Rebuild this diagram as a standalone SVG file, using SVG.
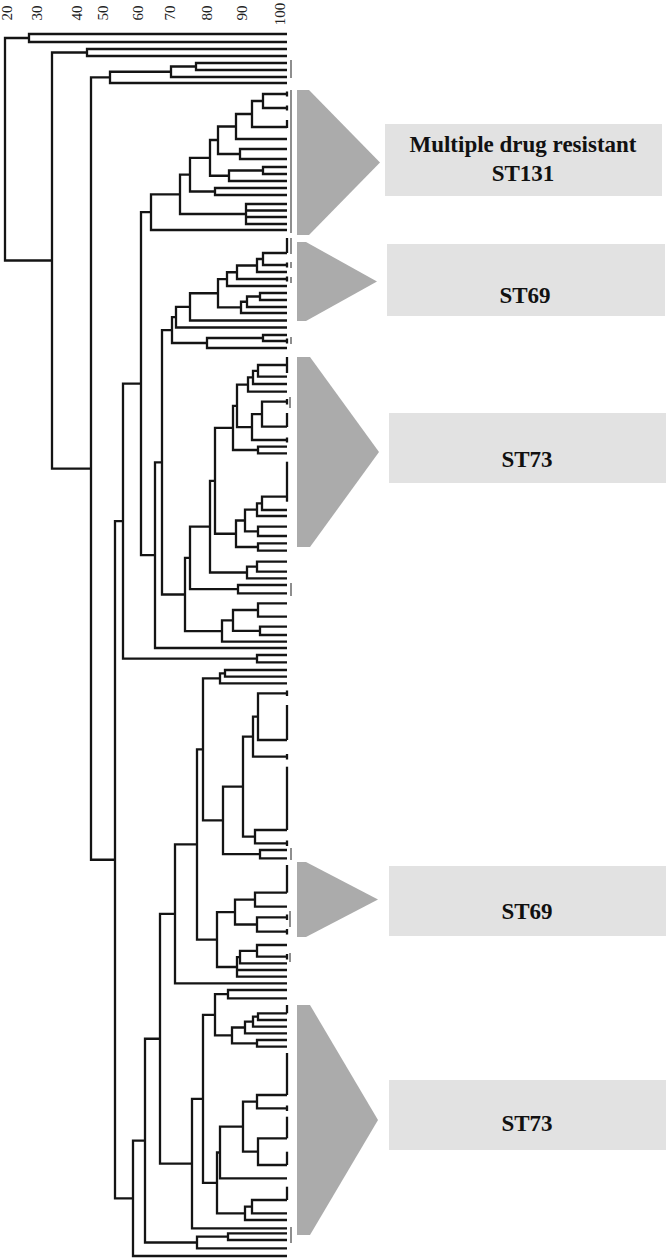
<svg xmlns="http://www.w3.org/2000/svg" width="666" height="1259" viewBox="0 0 666 1259">
<style>
.br{fill:none;stroke:#141414;stroke-width:2.3;stroke-linejoin:miter;stroke-linecap:butt}
.tk{fill:none;stroke:#141414;stroke-width:2.3}
.bar{fill:none;stroke:#6a6a6a;stroke-width:1.5}
.tri{fill:#ababab}
.box{fill:#e2e2e2}
.lbl{font-family:"Liberation Serif","Times New Roman",serif;font-weight:bold;font-size:23px;fill:#111;text-anchor:middle}
.ax{font-family:"Liberation Serif","Times New Roman",serif;font-size:15px;fill:#222;text-anchor:middle}
</style>
<rect width="666" height="1259" fill="#ffffff"/>
<g id="axis">
<text class="ax" transform="translate(12,13) rotate(-90)">20</text>
<text class="ax" transform="translate(42,13) rotate(-90)">30</text>
<text class="ax" transform="translate(82,13) rotate(-90)">40</text>
<text class="ax" transform="translate(108,13) rotate(-90)">50</text>
<text class="ax" transform="translate(143,13) rotate(-90)">60</text>
<text class="ax" transform="translate(175,13) rotate(-90)">70</text>
<text class="ax" transform="translate(212,13) rotate(-90)">80</text>
<text class="ax" transform="translate(247,13) rotate(-90)">90</text>
<text class="ax" transform="translate(285,14) rotate(-90)">100</text>
</g>
<g id="connectors">
<path class="br" d="M29 38H5V260.5H52"/>
<path class="br" d="M287 34H29V42H287"/>
<path class="br" d="M287 49H87V56H287"/>
<path class="br" d="M287 63H196V70H287"/>
<path class="br" d="M196 66.5H171V77H287"/>
<path class="br" d="M171 71.75H110V83H287"/>
<path class="br" d="M87 52.5H52V468.6H91"/>
<path class="br" d="M110 77.4H91V859.75H115"/>
<path class="br" d="M123 521.2H115V1198.3H133"/>
<path class="br" d="M141 383.7H123V658.65H257"/>
<path class="br" d="M287 655H257V662.3H287"/>
<path class="br" d="M151 212.2H141V555.15H155"/>
<path class="br" d="M162 462.3H155V648H287"/>
<path class="br" d="M172 330.1H162V594.5H185"/>
<path class="br" d="M287 94H263V108H287"/>
<path class="br" d="M287 120V128"/>
<path class="br" d="M263 101H252V127H287"/>
<path class="br" d="M252 114H236V139H287"/>
<path class="br" d="M287 149H240V159H287"/>
<path class="br" d="M236 126.5H218V154H240"/>
<path class="br" d="M287 167H263V174H287"/>
<path class="br" d="M263 170.5H229V181H287"/>
<path class="br" d="M218 140H210V175.75H229"/>
<path class="br" d="M287 188H215V195H287"/>
<path class="br" d="M210 157.9H190V191.5H215"/>
<path class="br" d="M287 204H246V224H287M246 210.5H287M246 217H287"/>
<path class="br" d="M190 174.7H180V214H246"/>
<path class="br" d="M180 194.35H151V230H287"/>
<path class="br" d="M287 238V253"/>
<path class="br" d="M287 253H263V265H287"/>
<path class="br" d="M263 259H257V272H287"/>
<path class="br" d="M257 265.5H237V279H287"/>
<path class="br" d="M237 272.25H227V286H287"/>
<path class="br" d="M287 293H260V300H287"/>
<path class="br" d="M260 296.5H247V307H287"/>
<path class="br" d="M247 301.75H241V313H287"/>
<path class="br" d="M227 279.1H218V307.4H241"/>
<path class="br" d="M218 293.25H190V320.5H287"/>
<path class="br" d="M190 306.9H176V327.5H287"/>
<path class="br" d="M287 335H263V341H287"/>
<path class="br" d="M263 338H207V348H287"/>
<path class="br" d="M176 317.2H172V343H207"/>
<path class="br" d="M287 357V373"/>
<path class="br" d="M287 365H258V376.7H287"/>
<path class="br" d="M258 370.85H253V384H287"/>
<path class="br" d="M253 377.4H248V391.7H287"/>
<path class="br" d="M287 413V427"/>
<path class="br" d="M287 401.7H262V426.7H287"/>
<path class="br" d="M262 414.2H252V440H287"/>
<path class="br" d="M248 384.55H237V427.1H252"/>
<path class="br" d="M287 446.7H258V453.3H287"/>
<path class="br" d="M237 405.8H233V450H258"/>
<path class="br" d="M287 461.7V501.7"/>
<path class="br" d="M287 496.7H262V510H287"/>
<path class="br" d="M262 503.35H257V516H287"/>
<path class="br" d="M287 526.7H258V536H287"/>
<path class="br" d="M257 509.7H245V531.35H258"/>
<path class="br" d="M287 543.3H258V550.7H287"/>
<path class="br" d="M245 520.5H236V547H258"/>
<path class="br" d="M233 427.9H215V533.75H236"/>
<path class="br" d="M287 561.7H257V571.7H287"/>
<path class="br" d="M257 566.7H247V578.3H287"/>
<path class="br" d="M215 480.8H210V572.5H247"/>
<path class="br" d="M287 585H238V593.3H287"/>
<path class="br" d="M210 526.65H190V589.15H238"/>
<path class="br" d="M287 603.3H258V616.7H287"/>
<path class="br" d="M287 626.7H260V635H287"/>
<path class="br" d="M258 610H233V630.85H260"/>
<path class="br" d="M233 620.4H222V641.7H287"/>
<path class="br" d="M190 557.9H185V631.05H222"/>
<path class="br" d="M287 670H225V676.7H287"/>
<path class="br" d="M225 673.35H220V683.3H287"/>
<path class="br" d="M287 705V740"/>
<path class="br" d="M287 693.3H258V740H287"/>
<path class="br" d="M258 716.65H253V756.7H287"/>
<path class="br" d="M287 766.7V830"/>
<path class="br" d="M287 830H255V843.3H287"/>
<path class="br" d="M253 736.7H243V836.65H255"/>
<path class="br" d="M287 850H260V858.3H287"/>
<path class="br" d="M243 786.7H223V854.15H260"/>
<path class="br" d="M220 678.3H203V820.4H223"/>
<path class="br" d="M287 865V892.7"/>
<path class="br" d="M287 892.7H255V906.7H287"/>
<path class="br" d="M287 917.3H257V931.7H287"/>
<path class="br" d="M255 899.7H235V924.5H257"/>
<path class="br" d="M287 945H257V956.7H287"/>
<path class="br" d="M257 950.85H240V963.3H287"/>
<path class="br" d="M240 957.1H237V976.7H287M237 970H287"/>
<path class="br" d="M235 912.1H217V967H237"/>
<path class="br" d="M203 749.35H197V939.55H217"/>
<path class="br" d="M197 844.45H175V983.3H287"/>
<path class="br" d="M287 990H228V998.3H287"/>
<path class="br" d="M287 1005V1013.3"/>
<path class="br" d="M287 1013.3H258V1020H287"/>
<path class="br" d="M258 1016.65H253V1026.7H287"/>
<path class="br" d="M253 1021.7H245V1033.3H287"/>
<path class="br" d="M287 1040H257V1046.7H287"/>
<path class="br" d="M245 1027.5H232V1043.35H257"/>
<path class="br" d="M228 994.15H215V1035.4H232"/>
<path class="br" d="M287 1053V1095"/>
<path class="br" d="M287 1095H257V1108.3H287"/>
<path class="br" d="M287 1116.7V1138.3"/>
<path class="br" d="M287 1151.7V1165"/>
<path class="br" d="M287 1138.3H258V1165H287"/>
<path class="br" d="M257 1101.65H243V1151.65H258"/>
<path class="br" d="M243 1126.65H220V1178.3H287"/>
<path class="br" d="M287 1186.7V1200"/>
<path class="br" d="M287 1200H252V1213.3H287"/>
<path class="br" d="M252 1206.65H245V1220H287"/>
<path class="br" d="M220 1152.5H217V1213.3H245"/>
<path class="br" d="M215 1014.8H203V1182.9H217"/>
<path class="br" d="M203 1098.85H192V1228.3H287"/>
<path class="br" d="M175 913.9H160V1163.6H192"/>
<path class="br" d="M287 1233.3H228V1240H287"/>
<path class="br" d="M228 1236.65H197V1248.3H287"/>
<path class="br" d="M160 1038.75H145V1242.5H197"/>
<path class="br" d="M145 1140.6H133V1256H287"/>
<path class="tk" d="M287 91.5V96.5M287 105.5V110.5M287 262.5V267.5M287 276.5V281.5M287 338.5V343.5M287 399V404.5M287 437.5V442.5M287 690.5V696M287 754V759.5M287 840.5V846M287 914.5V920M287 929V934.5M287 954V959.5M287 1105.5V1111"/>
<path class="bar" d="M291 60V78M291 90V233M291 238V254M291 262V268M291 277V283M291 337V344M290 397V408M291 583V596M291 848V860M290 911V927M290 953V962M291 1227V1243"/>
</g>
<g id="st131">
<polygon class="tri" points="297,90 309,90 380,162.5 309,235 297,235"/>
<rect class="box" x="385" y="124" width="277" height="72"/>
<text class="lbl" x="523" y="152">Multiple drug resistant</text>
<text class="lbl" x="523" y="181">ST131</text>
</g>
<g id="st69a">
<polygon class="tri" points="297,242 306,242 377,281.5 306,321 297,321"/>
<rect class="box" x="387" y="244" width="278" height="72"/>
<text class="lbl" x="525" y="303">ST69</text>
</g>
<g id="st73a">
<polygon class="tri" points="297,357 310,357 379,452 310,547 297,547"/>
<rect class="box" x="389" y="413" width="277" height="70"/>
<text class="lbl" x="527" y="467">ST73</text>
</g>
<g id="st69b">
<polygon class="tri" points="297,862 306,862 378,899.5 306,937 297,937"/>
<rect class="box" x="389" y="866" width="277" height="70"/>
<text class="lbl" x="527" y="919">ST69</text>
</g>
<g id="st73b">
<polygon class="tri" points="297,1005 310,1005 378,1120 310,1235 297,1235"/>
<rect class="box" x="389" y="1080" width="277" height="70"/>
<text class="lbl" x="527" y="1131">ST73</text>
</g>
</svg>
